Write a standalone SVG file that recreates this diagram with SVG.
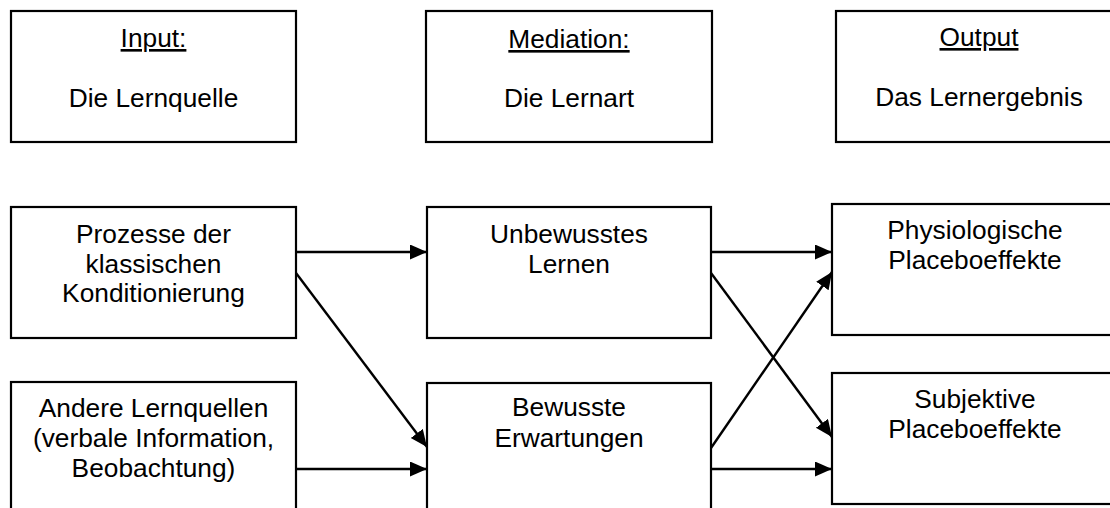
<svg xmlns="http://www.w3.org/2000/svg" width="1110" height="508" viewBox="0 0 1110 508">
<style>
.box{fill:#fff;stroke:#000;stroke-width:2.2}
.t{font-family:"Liberation Sans",Arial,sans-serif;font-size:26.3px;fill:#000;text-anchor:middle}
.u{text-decoration:underline}
.c{stroke:#000;stroke-width:2.4;fill:none}
</style>
<defs>
<marker id="ah" markerUnits="userSpaceOnUse" markerWidth="18" markerHeight="16" refX="17" refY="7.5" orient="auto">
<path d="M0,0 L17,7.5 L0,15 z" fill="#000"/>
</marker>
</defs>
<rect width="1110" height="508" fill="#fff"/>
<g id="input">
<rect class="box" x="11" y="11" width="285" height="131"/>
<text class="t u" x="153.5" y="47">Input:</text>
<text class="t" x="153.5" y="107">Die Lernquelle</text>
</g>
<g id="mediation">
<rect class="box" x="426" y="11" width="286" height="131"/>
<text class="t u" x="569" y="48">Mediation:</text>
<text class="t" x="569" y="107">Die Lernart</text>
</g>
<g id="output">
<rect class="box" x="836" y="11" width="286" height="131"/>
<text class="t u" x="979" y="46">Output</text>
<text class="t" x="979" y="106">Das Lernergebnis</text>
</g>
<g id="klassisch">
<rect class="box" x="11" y="207" width="285" height="131"/>
<text class="t" x="153.5" y="243">Prozesse der</text>
<text class="t" x="153.5" y="272.5">klassischen</text>
<text class="t" x="153.5" y="302">Konditionierung</text>
</g>
<g id="andere">
<rect class="box" x="11" y="382" width="285" height="140"/>
<text class="t" x="153.5" y="417">Andere Lernquellen</text>
<text class="t" x="153.5" y="447">(verbale Information,</text>
<text class="t" x="153.5" y="477">Beobachtung)</text>
</g>
<g id="unbewusst">
<rect class="box" x="427" y="207" width="284" height="131"/>
<text class="t" x="569" y="243">Unbewusstes</text>
<text class="t" x="569" y="273">Lernen</text>
</g>
<g id="bewusst">
<rect class="box" x="427" y="383" width="284" height="140"/>
<text class="t" x="569" y="416">Bewusste</text>
<text class="t" x="569" y="447">Erwartungen</text>
</g>
<g id="physio">
<rect class="box" x="832" y="204" width="286" height="131"/>
<text class="t" x="975" y="239">Physiologische</text>
<text class="t" x="975" y="269">Placeboeffekte</text>
</g>
<g id="subjektiv">
<rect class="box" x="832" y="373" width="286" height="131"/>
<text class="t" x="975" y="408">Subjektive</text>
<text class="t" x="975" y="438">Placeboeffekte</text>
</g>
<g id="connectors">
<line class="c" x1="296" y1="252" x2="427" y2="252" marker-end="url(#ah)"/>
<line class="c" x1="296" y1="273" x2="427" y2="447" marker-end="url(#ah)"/>
<line class="c" x1="296" y1="469" x2="427" y2="469" marker-end="url(#ah)"/>
<line class="c" x1="711" y1="252" x2="832" y2="252" marker-end="url(#ah)"/>
<line class="c" x1="711" y1="273" x2="832" y2="437" marker-end="url(#ah)"/>
<line class="c" x1="711" y1="448" x2="832" y2="272" marker-end="url(#ah)"/>
<line class="c" x1="711" y1="469" x2="832" y2="469" marker-end="url(#ah)"/>
</g>
</svg>
